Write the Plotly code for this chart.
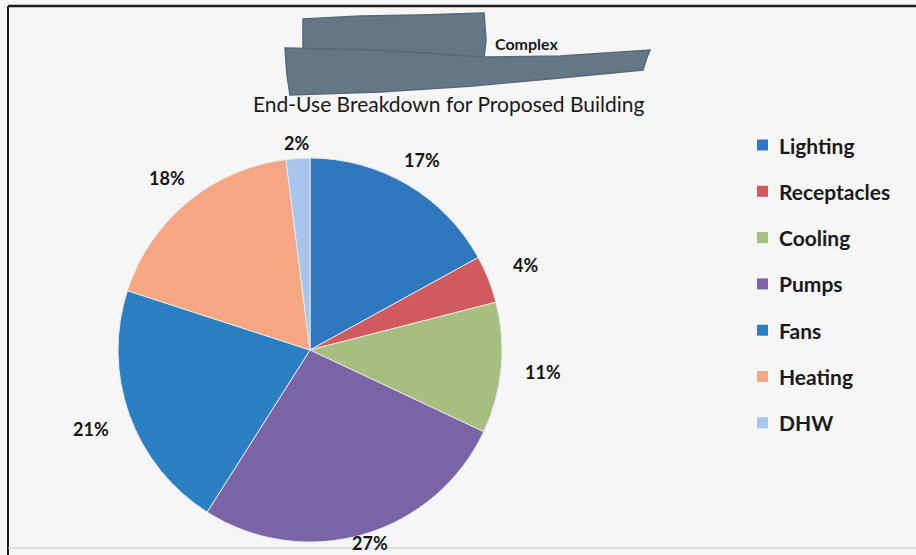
import math
import plotly.graph_objects as go

# End-use shares (%) for the proposed building
categories = ["Lighting", "Receptacles", "Cooling", "Pumps", "Fans", "Heating", "DHW"]
shares = [17, 4, 11, 27, 21, 18, 2]
colors = ["#2f78c0", "#d05a5e", "#a8bd80", "#7a64a6", "#2b80c4", "#f5a682", "#a8c6ec"]

W, H = 916, 555
CX, CY, R = 310, 350, 192  # pie centre / radius in pixels

fig = go.Figure()
fig.add_trace(go.Pie(
    labels=categories,
    values=shares,
    marker=dict(colors=colors, line=dict(color="#e6e8ea", width=1)),
    sort=False,
    direction="clockwise",
    rotation=0,
    textinfo="none",
    hoverinfo="label+percent",
    showlegend=False,
    domain=dict(x=[(CX - R) / W, (CX + R) / W], y=[(H - CY - R) / H, (H - CY + R) / H]),
))

annotations = []
shapes = []

# Percentage labels placed just outside each slice, along its mid angle
total = sum(shares)
cum = 0
for val in shares:
    mid = (cum + val / 2) / total * 2 * math.pi
    cum += val
    s, c = math.sin(mid), math.cos(mid)
    d = R + 14 + 28 * abs(s)
    px, py = CX + d * s, CY - d * c
    py = min(py, H - 12)  # keep bottom labels inside the frame
    annotations.append(dict(
        x=px / W, y=1 - py / H, xref="paper", yref="paper",
        text=f"{round(val / total * 100)}%", showarrow=False,
        font=dict(family="Lato", size=18, color="#151515", weight="bold"),
        xanchor="center", yanchor="middle",
    ))

# Legend column on the right
leg_x, leg_y0, leg_step = 757, 145, 46.3
for i, (name, col) in enumerate(zip(categories, colors)):
    y = leg_y0 + i * leg_step
    shapes.append(dict(type="rect", xref="paper", yref="paper",
                       x0=leg_x / W, x1=(leg_x + 11) / W,
                       y0=1 - (y + 5.5) / H, y1=1 - (y - 5.5) / H,
                       fillcolor=col, line=dict(width=0)))
    annotations.append(dict(
        x=(leg_x + 20) / W, y=1 - y / H, xref="paper", yref="paper",
        text=name, showarrow=False, xanchor="left", yanchor="middle",
        font=dict(family="Lato", size=21, color="#1a1a1a", weight="bold"),
    ))

# Titles
annotations.append(dict(
    x=449 / W, y=1 - 103 / H, xref="paper", yref="paper",
    text="End-Use Breakdown for Proposed Building", showarrow=False,
    xanchor="center", yanchor="middle",
    font=dict(family="Lato", size=21, color="#1a1a1a"),
))
annotations.append(dict(
    x=493 / W, y=1 - 44 / H, xref="paper", yref="paper",
    text="Complex", showarrow=False, xanchor="left", yanchor="middle",
    font=dict(family="Lato", size=16, color="#1a1a1a", weight="bold"),
))


def px_path(points):
    parts = []
    for k, (x, y) in enumerate(points):
        parts.append(("M" if k == 0 else "L") + f"{x / W:.5f},{1 - y / H:.5f}")
    return " ".join(parts) + " Z"


# Redaction marks over the heading
redact_upper = [(303, 19), (360, 16), (420, 15), (484, 13), (486, 40), (484, 58), (303, 60)]
redact_band = [(285, 48), (380, 50), (483, 57), (560, 56), (650, 50), (646, 60), (643, 70),
               (560, 78), (473, 86), (380, 92), (290, 95), (287, 75)]
for path in (redact_upper, redact_band):
    shapes.append(dict(type="path", xref="paper", yref="paper", path=px_path(path),
                       fillcolor="#657787", line=dict(color="#56687a", width=1.5),
                       layer="above"))

# Chart frame
shapes.append(dict(type="line", xref="paper", yref="paper",
                   x0=8 / W, x1=1, y0=1 - 6 / H, y1=1 - 6 / H,
                   line=dict(color="#1c1c1c", width=2.5)))
shapes.append(dict(type="line", xref="paper", yref="paper",
                   x0=8 / W, x1=8 / W, y0=0, y1=1 - 6 / H,
                   line=dict(color="#1c1c1c", width=2)))
shapes.append(dict(type="line", xref="paper", yref="paper",
                   x0=8 / W, x1=1, y0=1 - 548 / H, y1=1 - 548 / H,
                   line=dict(color="#c8c8c8", width=1)))

fig.update_layout(
    width=W, height=H,
    margin=dict(l=0, r=0, t=0, b=0),
    paper_bgcolor="#f6f6f6",
    plot_bgcolor="#f6f6f6",
    annotations=annotations,
    shapes=shapes,
)

fig.write_html("out.html")
